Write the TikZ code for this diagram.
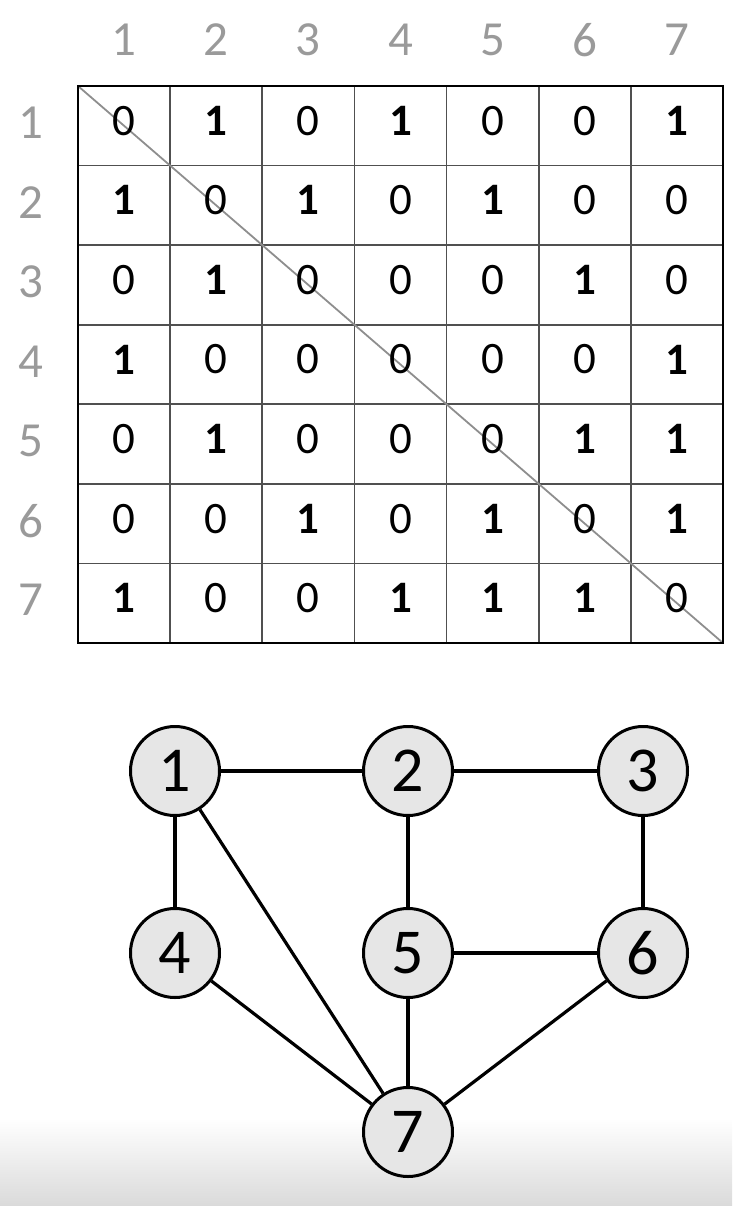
\documentclass[tikz,border=0pt]{standalone}
\usepackage{fontspec}
\setmainfont{Carlito}
\definecolor{hdrgray}{HTML}{9A9A9A}
\definecolor{diaggray}{HTML}{8E8E8E}
\definecolor{gridgray}{HTML}{505050}
\definecolor{vfill}{HTML}{E6E6E6}
\definecolor{bandgray}{HTML}{DADADA}
\begin{document}
\begin{tikzpicture}[x=1pt,y=-1pt,
  hdr/.style={text=hdrgray,font=\fontsize{49}{49}\selectfont,inner sep=0pt},
  cellzero/.style={font=\fontsize{45}{45}\selectfont,inner sep=0pt},
  cellone/.style={font=\fontsize{45}{45}\selectfont\bfseries,inner sep=0pt},
  vertex/.style={circle,draw=black,line width=3pt,fill=vfill,minimum size=89pt,inner sep=0pt,
                 font=\fontsize{64}{64}\selectfont},
  edge/.style={line width=3.2pt,black}]
\useasboundingbox (0,0) rectangle (732,1206);
% soft grey band along the lower edge
\shade[top color=white,bottom color=bandgray] (0,1118) rectangle (732,1206);

% matrix grid
\pgfmathsetmacro{\cw}{(723-78)/7}
\pgfmathsetmacro{\ch}{(643-86)/7}
\foreach \i in {1,...,6}{
  \draw[gridgray,line width=1.7pt] ({78+\i*\cw},86) -- ({78+\i*\cw},643);
  \draw[gridgray,line width=1.7pt] (78,{86+\i*\ch}) -- (723,{86+\i*\ch});
}
\draw[diaggray,line width=1.8pt] (78,86) -- (723,643);
\draw[black,line width=2.8pt] (78,86) rectangle (723,643);

% column and row headers
\foreach \i in {1,...,7}{
  \node[hdr] (col\i) at ({78+(\i-0.5)*\cw},40) {\i};
  \node[hdr] (row\i) at (31,{86+(\i-0.5)*\ch-3}) {\i};
}

% adjacency entries
\foreach \r/\vals in {1/{0,1,0,1,0,0,1},2/{1,0,1,0,1,0,0},3/{0,1,0,0,0,1,0},
                      4/{1,0,0,0,0,0,1},5/{0,1,0,0,0,1,1},6/{0,0,1,0,1,0,1},
                      7/{1,0,0,1,1,1,0}}{
  \foreach \v [count=\c] in \vals{
    \ifnum\v=1
      \node[cellone] (m\r-\c) at ({78+(\c-0.5)*\cw},{86+(\r-0.5)*\ch-5}) {1};
    \else
      \node[cellzero] (m\r-\c) at ({78+(\c-0.5)*\cw},{86+(\r-0.5)*\ch-5}) {0};
    \fi
  }
}

% graph
\node[vertex] (v1) at (175,771) {1};
\node[vertex] (v2) at (408,771) {2};
\node[vertex] (v3) at (643,771) {3};
\node[vertex] (v4) at (175,953) {4};
\node[vertex] (v5) at (408,953) {5};
\node[vertex] (v6) at (643,953) {6};
\node[vertex] (v7) at (408,1132) {7};
\draw[edge] (v1) -- (v2);
\draw[edge] (v2) -- (v3);
\draw[edge] (v1) -- (v4);
\draw[edge] (v1) -- (v7);
\draw[edge] (v2) -- (v5);
\draw[edge] (v3) -- (v6);
\draw[edge] (v5) -- (v6);
\draw[edge] (v4) -- (v7);
\draw[edge] (v5) -- (v7);
\draw[edge] (v6) -- (v7);
\end{tikzpicture}
\end{document}
